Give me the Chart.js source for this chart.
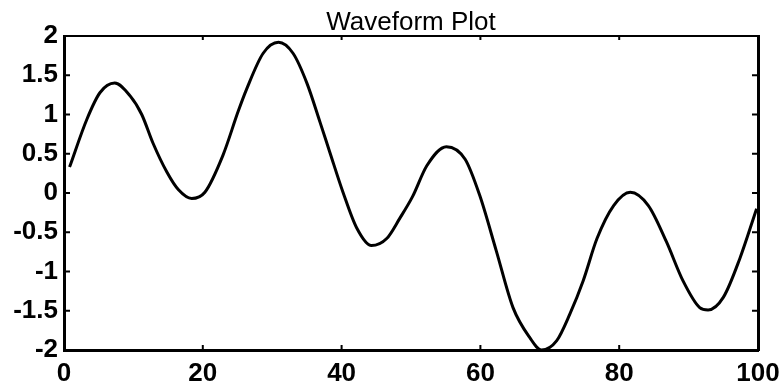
<!DOCTYPE html>
<html>
<head>
<meta charset="utf-8">
<title>Waveform Plot</title>
<script src="https://cdn.jsdelivr.net/npm/chart.js@4"></script>
<style>
  html, body { margin: 0; padding: 0; background: #fff; }
  #wrap { width: 783px; height: 385px; }
</style>
</head>
<body>
<div id="wrap"><canvas id="waveChart"></canvas></div>
<script>
// values
const xValues = [0.8, 3.3, 5.2, 7.3, 9.5, 11.2, 12.8, 14.8, 16.5, 18.4, 20.3, 22.9, 25.1,
    26.3, 28.7, 30.9, 33.0, 35.0, 36.9, 38.3, 40.2, 42.2, 44.3, 46.5, 48.4, 50.2,
    52.3, 55.1, 57.8, 59.9, 62.3, 64.7, 67.1, 68.8, 71.0, 72.9, 74.8, 76.8, 79.2,
    81.6, 84.2, 86.8, 89.2, 91.6, 92.8, 95.0, 97.4, 99.8];
const yValues = [0.33, 0.94, 1.28, 1.40, 1.24, 1.00, 0.64, 0.27, 0.04, -0.07, 0.01, 0.48, 1.04,
    1.32, 1.78, 1.92, 1.78, 1.40, 0.90, 0.52, 0.01, -0.45, -0.67, -0.58, -0.32, -0.05,
    0.35, 0.59, 0.43, -0.03, -0.74, -1.46, -1.84, -2.0, -1.88, -1.54, -1.12, -0.58, -0.16,
    0.01, -0.16, -0.62, -1.12, -1.46, -1.49, -1.33, -0.83, -0.20];
const xTicks = [0, 20, 40, 60, 80, 100];
const yTicks = [-2, -1.5, -1, -0.5, 0, 0.5, 1, 1.5, 2];

const points = xValues.map((x, i) => ({ x: x, y: yValues[i] }));
const fontFamily = "'Liberation Sans', Arial, sans-serif";
const tickFont = { family: fontFamily, size: 26, weight: "bold" };

// small tick marks pointing into the plot box, on all four sides
const innerTicks = {
    id: "innerTicks",
    afterDraw(chart) {
        const { ctx, chartArea: a, scales } = chart;
        ctx.save();
        ctx.strokeStyle = "#000";
        ctx.lineWidth = 2;
        ctx.beginPath();
        yTicks.forEach(v => {
            const py = scales.y.getPixelForValue(v);
            ctx.moveTo(a.left, py); ctx.lineTo(a.left + 6, py);
            ctx.moveTo(a.right, py); ctx.lineTo(a.right - 6, py);
        });
        xTicks.forEach(v => {
            const px = scales.x.getPixelForValue(v);
            ctx.moveTo(px, a.bottom); ctx.lineTo(px, a.bottom - 5);
            ctx.moveTo(px, a.top); ctx.lineTo(px, a.top + 4);
        });
        ctx.stroke();
        ctx.restore();
    }
};

const ctx = document.getElementById("waveChart").getContext("2d");

new Chart(ctx, {
    type: "line",
    data: {
        datasets: [{
            data: points,
            borderColor: "#000",
            borderWidth: 3,
            pointRadius: 0,
            cubicInterpolationMode: "monotone",
            fill: false,
            clip: false
        }]
    },
    options: {
        responsive: true,
        maintainAspectRatio: false,
        animation: false,
        layout: { padding: 0 },
        plugins: {
            legend: { display: false },
            tooltip: { enabled: false },
            title: {
                display: true,
                text: "Waveform Plot",
                color: "#000",
                fullSize: false,
                font: { family: fontFamily, size: 26, weight: "normal", lineHeight: 1.0 },
                padding: { top: 10, bottom: 0 }
            }
        },
        scales: {
            x: {
                type: "linear",
                min: 0,
                max: 100,
                afterBuildTicks: s => { s.ticks = xTicks.map(v => ({ value: v })); },
                afterFit: s => { s.height = 35; s.paddingLeft = 0; s.paddingRight = 0; },
                border: { display: true, color: "#000", width: 3 },
                grid: { display: false, drawTicks: false },
                ticks: { color: "#000", font: tickFont, padding: 8, maxRotation: 0 }
            },
            xTop: {
                type: "linear",
                position: "top",
                min: 0,
                max: 100,
                afterFit: s => { s.height = 0; },
                border: { display: true, color: "#000", width: 2 },
                grid: { display: false, drawTicks: false },
                ticks: { display: false }
            },
            y: {
                type: "linear",
                min: -2,
                max: 2,
                afterBuildTicks: s => { s.ticks = yTicks.map(v => ({ value: v })); },
                afterFit: s => { s.width = 64; },
                border: { display: true, color: "#000", width: 3 },
                grid: { display: false, drawTicks: false },
                ticks: {
                    color: "#000",
                    font: tickFont,
                    padding: 6,
                    callback: v => String(v)
                }
            },
            yRight: {
                type: "linear",
                position: "right",
                min: -2,
                max: 2,
                afterFit: s => { s.width = 25; },
                border: { display: true, color: "#000", width: 3 },
                grid: { display: false, drawTicks: false },
                ticks: { display: false }
            }
        }
    },
    plugins: [innerTicks]
});
</script>
</body>
</html>
